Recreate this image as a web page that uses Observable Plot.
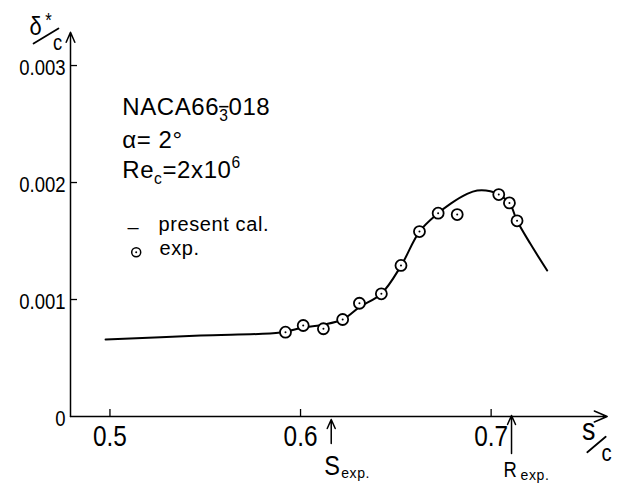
<!DOCTYPE html>
<html><head><meta charset="utf-8">
<script src="https://cdn.jsdelivr.net/npm/d3@7"></script>
<script src="https://cdn.jsdelivr.net/npm/@observablehq/plot@0.6"></script>
<style>body{margin:0;background:#fff}</style>
</head><body><div id="chart"></div>
<script>
// ---- data ----
const curveS = [0.4977, 0.5475, 0.5895, 0.6014, 0.6120, 0.6221, 0.6309, 0.6424, 0.6528, 0.6624, 0.6722, 0.6786, 0.6874, 0.6927, 0.6996, 0.7040, 0.7096, 0.7136, 0.7206, 0.7294];
const curveD = [0.000658, 0.000692, 0.000718, 0.000761, 0.000785, 0.000829, 0.000935, 0.001050, 0.001290, 0.001581, 0.001738, 0.001818, 0.001903, 0.001932, 0.001926, 0.001897, 0.001826, 0.001673, 0.001476, 0.001248];
const expS = [0.5921, 0.6014, 0.6120, 0.6221, 0.6309, 0.6424, 0.6527, 0.6624, 0.6722, 0.6822, 0.7040, 0.7096, 0.7136];
const expD = [0.000721, 0.000778, 0.000750, 0.000829, 0.000968, 0.001049, 0.001291, 0.001581, 0.001738, 0.001726, 0.001897, 0.001826, 0.001673];
const xTicks = [0.5, 0.6, 0.7];
const xTickLabels = ["0.5", "0.6", "0.7"];
const yTicks = [0.001, 0.002, 0.003];
const yLabelValues = [0, 0.001, 0.002, 0.003];
const yTickLabels = ["0", "0.001", "0.002", "0.003"];
const markerS = [0.6161, 0.7107];
const markerLabels = ["S", "R"];
const markerSub = "exp.";
const infoLines = ["NACA66~{3}018", "α= 2°", "Re_{c}=2x10^{6}"];
const legendLabels = ["present cal.", "exp."];
const yTitle = ["δ", "*", "c"];
const xTitle = ["s", "c"];
const xDomain = [0.4793, 0.7609];
const yDomain = [0, 0.003285];

const SANS = "'Liberation Sans', Arial, sans-serif";

const curveData = curveS.map((s, i) => ({s, d: curveD[i]}));
const expData = expS.map((s, i) => ({s, d: expD[i]}));

const arrowShape = {
  draw(ctx, l) {
    const h = 9, w = 4;
    ctx.moveTo(0, 0); ctx.lineTo(0, -l);
    ctx.moveTo(-w, h - l); ctx.lineTo(0, -l); ctx.lineTo(w, h - l);
  }
};
const slashShape = { draw(ctx, l) { ctx.moveTo(0, 0); ctx.lineTo(0, -l); } };

const TL = {x: () => xDomain[0], y: () => yDomain[1]};   // top-left corner of the frame
const BR = {x: () => xDomain[1], y: () => 0};            // bottom-right corner of the frame
const txt = (o) => ({lineAnchor: "middle", fontFamily: SANS, ...o});

const chart = Plot.plot({
  width: 621, height: 484,
  marginLeft: 70, marginRight: 14.3, marginTop: 31.7, marginBottom: 68,
  x: {domain: xDomain, axis: null},
  y: {domain: yDomain, axis: null},
  style: {background: "white", color: "black", fontFamily: SANS},
  marks: [
    // axes with arrowheads
    Plot.arrow([0], {x1: () => xDomain[0], y1: () => 0, x2: () => xDomain[1], y2: () => 0, stroke: "black", strokeWidth: 1.5, headLength: 14, headAngle: 46}),
    Plot.arrow([0], {x1: () => xDomain[0], y1: () => 0, x2: () => xDomain[0], y2: () => yDomain[1], stroke: "black", strokeWidth: 1.5, headLength: 11, headAngle: 46}),
    // ticks
    Plot.ruleX(xTicks, {x: d => d, y1: () => 0, y2: () => 0, insetBottom: 7, stroke: "black", strokeWidth: 1.3}),
    Plot.ruleY(yTicks, {y: d => d, x1: () => xDomain[0], x2: () => xDomain[0], insetRight: -7, stroke: "black", strokeWidth: 1.3}),
    // tick labels
    Plot.text(xTicks, txt({x: d => d, y: () => 0, text: (d, i) => xTickLabels[i], dy: 20, fontSize: 29})),
    Plot.text(yLabelValues, txt({x: () => xDomain[0], y: d => d, text: (d, i) => yTickLabels[i], textAnchor: "end", dx: -5, dy: 2, fontSize: 22})),
    // y axis title δ*/c
    Plot.text([0], txt({...TL, text: () => yTitle[0], dx: -35, dy: -6, fontSize: 26})),
    Plot.text([0], txt({...TL, text: () => yTitle[1], dx: -22, dy: -12, fontSize: 20})),
    Plot.vector([0], {...TL, length: 29, rotate: 59, anchor: "middle", shape: slashShape, dx: -24.5, dy: 3.8, stroke: "black", strokeWidth: 1.8}),
    Plot.text([0], txt({...TL, text: () => yTitle[2], dx: -13, dy: 10.5, fontSize: 22})),
    // x axis title s/c
    Plot.text([0], txt({...BR, text: () => xTitle[0], dx: -18.4, dy: 13, fontSize: 32})),
    Plot.vector([0], {...BR, length: 24, rotate: 50, anchor: "middle", shape: slashShape, dx: -10.7, dy: 28, stroke: "black", strokeWidth: 1.8}),
    Plot.text([0], txt({...BR, text: () => xTitle[1], dx: -0.7, dy: 36.5, fontSize: 24})),
    // S_exp / R_exp markers
    Plot.vector([markerS[0]], {x: d => d, y: () => 0, length: 24, anchor: "end", rotate: 0, dy: 3, shape: arrowShape, stroke: "black", strokeWidth: 1.5}),
    Plot.vector([markerS[1]], {x: d => d, y: () => 0, length: 38, anchor: "end", rotate: 0, dy: -1, shape: arrowShape, stroke: "black", strokeWidth: 1.5}),
    Plot.text([markerS[0]], txt({x: d => d, y: () => 0, text: () => markerLabels[0], textAnchor: "start", dx: -7, dy: 49.5, fontSize: 28})),
    Plot.text([markerS[0]], txt({x: d => d, y: () => 0, text: () => markerSub, textAnchor: "start", dx: 10, dy: 57, fontSize: 14})),
    Plot.text([markerS[1]], txt({x: d => d, y: () => 0, text: () => markerLabels[1], textAnchor: "start", dx: -8, dy: 53.5, fontSize: 22})),
    Plot.text([markerS[1]], txt({x: d => d, y: () => 0, text: () => markerSub, textAnchor: "start", dx: 9, dy: 59, fontSize: 14})),
    // info block
    Plot.text([0], txt({...TL, text: () => infoLines[0], textAnchor: "start", dx: 51.7, dy: 75, fontSize: 24})),
    Plot.text([0], txt({...TL, text: () => infoLines[1], textAnchor: "start", dx: 51.7, dy: 108, fontSize: 24})),
    Plot.text([0], txt({...TL, text: () => infoLines[2], textAnchor: "start", dx: 51.7, dy: 138, fontSize: 24})),
    // legend
    Plot.text([0], txt({...TL, text: () => "–", dx: 62.5, dy: 195, fontSize: 20})),
    Plot.text([0], txt({...TL, text: () => legendLabels[0], textAnchor: "start", dx: 88, dy: 192, fontSize: 20})),
    Plot.dot([0], {...TL, dx: 65.7, dy: 220, r: 4.5, stroke: "black", strokeWidth: 1.5, fill: "white"}),
    Plot.dot([0], {...TL, dx: 65.7, dy: 220, r: 1, fill: "black"}),
    Plot.text([0], txt({...TL, text: () => legendLabels[1], textAnchor: "start", dx: 89, dy: 216, fontSize: 20})),
    // data
    Plot.line(curveData, {x: "s", y: "d", curve: "catmull-rom", stroke: "black", strokeWidth: 2}),
    Plot.dot(expData, {x: "s", y: "d", r: 5.5, stroke: "black", strokeWidth: 1.8, fill: "white"}),
    Plot.dot(expData, {x: "s", y: "d", r: 1, fill: "black"})
  ]
});
document.getElementById("chart").appendChild(chart);

// narrow lettering for labels, rich text for sub/superscripts
const narrow = new Set([...xTickLabels, ...yTickLabels, ...markerLabels, ...yTitle, ...xTitle]);
d3.select(chart).selectAll("text").each(function () {
  const t = this.textContent;
  if (narrow.has(t)) {
    const w = this.getComputedTextLength();
    this.setAttribute("textLength", (w * 0.84).toFixed(1));
    this.setAttribute("lengthAdjust", "spacingAndGlyphs");
  }
  if (infoLines.includes(t) || legendLabels.includes(t)) this.style.letterSpacing = "0.6px";
  if (!/[_^~]\{/.test(t)) return;
  const el = d3.select(this);
  el.text(null);
  const re = /([_^~])\{([^}]*)\}|([^_^~]+)/g;
  let m;
  while ((m = re.exec(t))) {
    if (m[3]) el.append("tspan").text(m[3]);
    else {
      const ts = el.append("tspan").attr("font-size", "65%")
        .attr("baseline-shift", m[1] === "^" ? "60%" : "-35%").text(m[2]);
      if (m[1] === "~") ts.style("text-decoration", "overline");
    }
  }
});
</script>
</body></html>
